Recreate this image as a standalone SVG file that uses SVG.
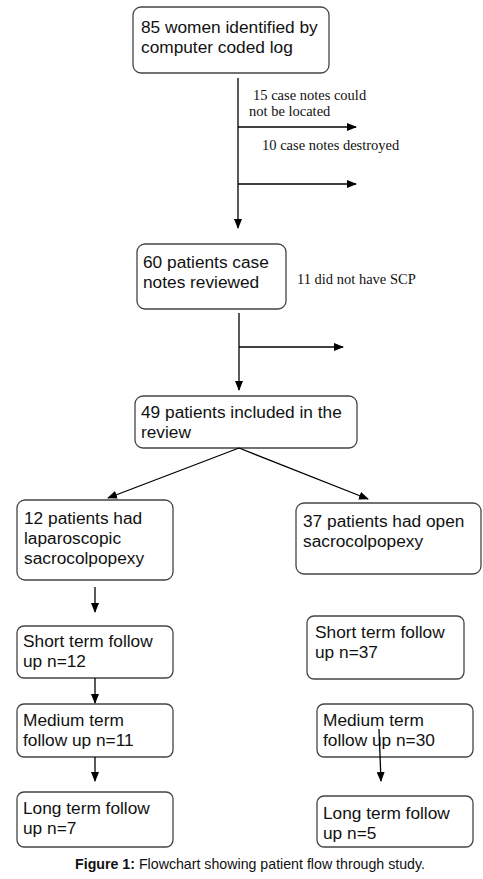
<svg xmlns="http://www.w3.org/2000/svg" width="483" height="879" viewBox="0 0 483 879">
<style>
.box{fill:#fff;stroke:#444;stroke-width:1.3}
.t{font-family:"Liberation Sans",Arial,sans-serif;font-size:17.3px;fill:#111}
.s{font-family:"Liberation Serif","Times New Roman",serif;font-size:14.5px;fill:#111}
.c{stroke:#000;stroke-width:1.3;fill:none}
.cap{font-family:"Liberation Sans",Arial,sans-serif;font-size:14.2px;fill:#111}
</style>
<defs>
<marker id="ah" markerWidth="10" markerHeight="8" refX="9" refY="4" orient="auto" markerUnits="userSpaceOnUse">
<path d="M0,0 L10,4 L0,8 Z" fill="#000"/>
</marker>
</defs>
<rect width="483" height="879" fill="#fff"/>
<g id="labels">
<text class="s" x="253" y="100">15 case notes could</text>
<text class="s" x="249" y="116">not be located</text>
<text class="s" x="262" y="150">10 case notes destroyed</text>
<text class="s" x="297" y="284">11 did not have SCP</text>
</g>
<g id="n1"><rect class="box" x="133" y="7" width="196" height="66" rx="8"/>
<text class="t" x="141" y="33">85 women identified by</text>
<text class="t" x="141" y="53">computer coded log</text></g>
<g id="n2"><rect class="box" x="137" y="244" width="149" height="65" rx="8"/>
<text class="t" x="143" y="268">60 patients case</text>
<text class="t" x="143" y="288">notes reviewed</text></g>
<g id="n3"><rect class="box" x="135" y="396" width="222" height="52" rx="8"/>
<text class="t" x="141" y="418">49 patients included in the</text>
<text class="t" x="141" y="438">review</text></g>
<g id="n4"><rect class="box" x="17" y="500" width="156" height="80" rx="8"/>
<text class="t" x="24" y="524">12 patients had</text>
<text class="t" x="24" y="544">laparoscopic</text>
<text class="t" x="24" y="564">sacrocolpopexy</text></g>
<g id="n5"><rect class="box" x="296" y="503" width="185" height="71" rx="8"/>
<text class="t" x="303" y="527">37 patients had open</text>
<text class="t" x="303" y="547">sacrocolpopexy</text></g>
<g id="n6"><rect class="box" x="17" y="626" width="156" height="52" rx="7"/>
<text class="t" x="23" y="647">Short term follow</text>
<text class="t" x="23" y="667">up n=12</text></g>
<g id="n7"><rect class="box" x="307" y="616" width="157" height="63" rx="7"/>
<text class="t" x="315" y="638">Short term follow</text>
<text class="t" x="315" y="658">up n=37</text></g>
<g id="n8"><rect class="box" x="17" y="704" width="156" height="53" rx="7"/>
<text class="t" x="23" y="726">Medium term</text>
<text class="t" x="23" y="746">follow up n=11</text></g>
<g id="n9"><rect class="box" x="317" y="704" width="156" height="53" rx="7"/>
<text class="t" x="323" y="726">Medium term</text>
<text class="t" x="323" y="746">follow up n=30</text></g>
<g id="n10"><rect class="box" x="17" y="792" width="156" height="55" rx="7"/>
<text class="t" x="23" y="814">Long term follow</text>
<text class="t" x="23" y="834">up n=7</text></g>
<g id="n11"><rect class="box" x="317" y="796" width="156" height="51" rx="7"/>
<text class="t" x="323" y="819">Long term follow</text>
<text class="t" x="323" y="839">up n=5</text></g>
<g id="connectors">
<line class="c" x1="238" y1="78" x2="238" y2="228" marker-end="url(#ah)"/>
<line class="c" x1="238" y1="127" x2="356" y2="127" marker-end="url(#ah)"/>
<line class="c" x1="238" y1="184" x2="356" y2="184" marker-end="url(#ah)"/>
<line class="c" x1="239" y1="313" x2="239" y2="390" marker-end="url(#ah)"/>
<line class="c" x1="239" y1="347" x2="343" y2="347" marker-end="url(#ah)"/>
<line class="c" x1="239" y1="448" x2="108" y2="498" marker-end="url(#ah)"/>
<line class="c" x1="239" y1="448" x2="368" y2="499" marker-end="url(#ah)"/>
<line class="c" x1="95" y1="587" x2="95" y2="612" marker-end="url(#ah)"/>
<line class="c" x1="95" y1="678" x2="95" y2="703" marker-end="url(#ah)"/>
<line class="c" x1="95" y1="757" x2="95" y2="781" marker-end="url(#ah)"/>
<line class="c" x1="379" y1="729" x2="381" y2="781" marker-end="url(#ah)"/>
</g>
<text class="cap" x="250" y="869" text-anchor="middle"><tspan font-weight="bold">Figure 1:</tspan> Flowchart showing patient flow through study.</text>
</svg>
